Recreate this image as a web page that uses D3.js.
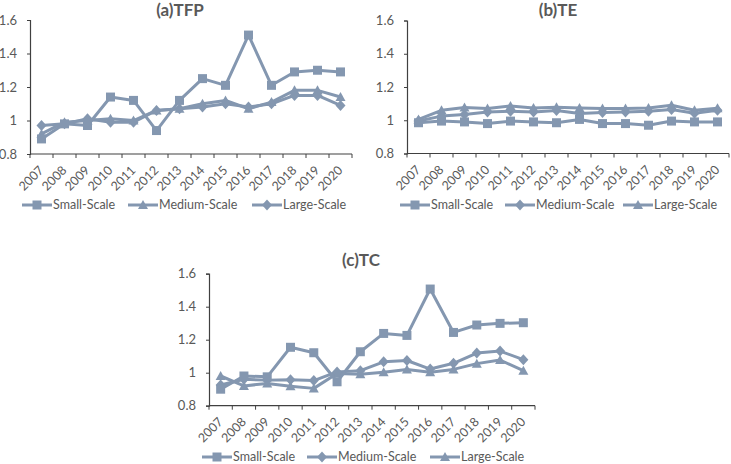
<!DOCTYPE html>
<html>
<head>
<meta charset="utf-8">
<script src="https://cdn.jsdelivr.net/npm/d3@7"></script>
<style>
  body { margin: 0; background: #fff; }
  svg { display: block; font-family: Lato, "Open Sans", sans-serif; }
  .tick text { fill: #595959; }
</style>
</head>
<body>
<svg id="chart" width="731" height="464"></svg>
<script>
var years = [2007, 2008, 2009, 2010, 2011, 2012, 2013, 2014, 2015, 2016, 2017, 2018, 2019, 2020];

// (a) TFP
var tfpSmall  = [0.89, 0.98, 0.97, 1.14, 1.12, 0.94, 1.12, 1.25, 1.21, 1.51, 1.21, 1.29, 1.30, 1.29];
var tfpMedium = [0.92, 0.99, 1.00, 1.01, 1.00, 1.06, 1.07, 1.10, 1.12, 1.07, 1.11, 1.18, 1.18, 1.14];
var tfpLarge  = [0.97, 0.98, 1.01, 0.99, 0.99, 1.06, 1.07, 1.08, 1.10, 1.08, 1.10, 1.15, 1.15, 1.09];

// (b) TE
var teSmall  = [0.985, 0.995, 0.99, 0.98, 0.995, 0.99, 0.985, 1.005, 0.98, 0.98, 0.97, 0.995, 0.99, 0.99];
var teMedium = [0.995, 1.025, 1.035, 1.05, 1.054, 1.05, 1.058, 1.04, 1.046, 1.05, 1.054, 1.065, 1.042, 1.06];
var teLarge  = [1.005, 1.06, 1.076, 1.07, 1.086, 1.074, 1.078, 1.074, 1.07, 1.07, 1.074, 1.09, 1.06, 1.072];

// (c) TC
var tcSmall  = [0.90, 0.98, 0.975, 1.154, 1.121, 0.945, 1.127, 1.238, 1.226, 1.507, 1.244, 1.289, 1.299, 1.303];
var tcMedium = [0.925, 0.96, 0.955, 0.958, 0.952, 1.005, 1.012, 1.066, 1.074, 1.022, 1.057, 1.119, 1.131, 1.079];
var tcLarge  = [0.98, 0.92, 0.935, 0.918, 0.905, 0.995, 0.99, 1.003, 1.02, 1.003, 1.02, 1.055, 1.077, 1.012];

var yTicks = [0.8, 1.0, 1.2, 1.4, 1.6];
var color = "#8497B0";
var axisColor = "#404040";

var panels = [
    { title: "(a)TFP", x0: 30, x1: 352, yTop: 20, yBot: 154, titleX: 180, titleY: 16, legendY: 205,
      legendX: [22, 128, 252],
      series: [
        { name: "Small-Scale", values: tfpSmall, shape: "square" },
        { name: "Medium-Scale", values: tfpMedium, shape: "triangle" },
        { name: "Large-Scale", values: tfpLarge, shape: "diamond" } ] },
    { title: "(b)TE", x0: 407, x1: 729, yTop: 20.5, yBot: 153.5, titleX: 558, titleY: 16, legendY: 205,
      legendX: [400, 505, 623],
      series: [
        { name: "Small-Scale", values: teSmall, shape: "square" },
        { name: "Medium-Scale", values: teMedium, shape: "diamond" },
        { name: "Large-Scale", values: teLarge, shape: "triangle" } ] },
    { title: "(c)TC", x0: 209, x1: 535, yTop: 273.7, yBot: 405.7, titleX: 361, titleY: 266, legendY: 457,
      legendX: [202, 307, 430],
      series: [
        { name: "Small-Scale", values: tcSmall, shape: "square" },
        { name: "Medium-Scale", values: tcMedium, shape: "diamond" },
        { name: "Large-Scale", values: tcLarge, shape: "triangle" } ] }
];

var svg = d3.select("#chart");

function marker(shape) {
    if (shape === "square") return "M-4.5,-4.5H4.5V4.5H-4.5Z";
    if (shape === "triangle") return "M0,-5L5,4H-5Z";
    return "M0,-5.5L5,0L0,5.5L-5,0Z";
}

function drawPanel(p) {
    var g = svg.append("g");

    var x = d3.scaleBand().domain(years).range([p.x0, p.x1]).padding(0);
    var y = d3.scaleLinear().domain([0.8, 1.6]).range([p.yBot, p.yTop]);

    // y axis
    var yAxis = d3.axisLeft(y)
        .tickValues(yTicks)
        .tickSize(3)
        .tickPadding(10)
        .tickFormat(d3.format("~g"));
    var ya = g.append("g")
        .attr("transform", "translate(" + p.x0 + ",0)")
        .call(yAxis);
    ya.select(".domain").attr("stroke", axisColor).attr("stroke-width", 1.2);
    ya.selectAll(".tick line").attr("stroke", axisColor);
    ya.selectAll(".tick text").style("font-size", "13px").style("font-family", "Lato");

    // x axis: line plus ticks between categories
    g.append("line")
        .attr("x1", p.x0).attr("x2", p.x1)
        .attr("y1", p.yBot).attr("y2", p.yBot)
        .attr("stroke", axisColor).attr("stroke-width", 1.2);

    var edges = years.map(d => x(d)).concat([p.x1]);
    g.selectAll(".xtick")
        .data(edges)
        .enter().append("line")
            .attr("class", "xtick")
            .attr("x1", d => d).attr("x2", d => d)
            .attr("y1", p.yBot).attr("y2", p.yBot + 4)
            .attr("stroke", axisColor);

    g.selectAll(".xlabel")
        .data(years)
        .enter().append("text")
            .attr("class", "xlabel")
            .attr("text-anchor", "end")
            .attr("fill", "#595959")
            .style("font-size", "12.5px")
            .attr("transform", d => "translate(" + (x(d) + x.bandwidth() / 2 + 3) + "," + (p.yBot + 17) + ") rotate(-45)")
            .text(d => d);

    // title
    g.append("text")
        .attr("x", p.titleX).attr("y", p.titleY)
        .attr("text-anchor", "middle")
        .attr("fill", "#595959")
        .style("font-size", "17px")
        .style("font-weight", "bold")
        .text(p.title);

    // lines + markers
    var line = d3.line()
        .x((d, i) => x(years[i]) + x.bandwidth() / 2)
        .y(d => y(d));

    p.series.slice().reverse().forEach(function(s) {
        g.append("path")
            .datum(s.values)
            .attr("fill", "none")
            .attr("stroke", color)
            .attr("stroke-width", 3)
            .attr("stroke-linejoin", "round")
            .attr("d", line);

        g.selectAll(null)
            .data(s.values)
            .enter().append("path")
                .attr("d", marker(s.shape))
                .attr("fill", color)
                .attr("transform", (d, i) => "translate(" + (x(years[i]) + x.bandwidth() / 2) + "," + y(d) + ")");
    });

    // legend
    p.series.forEach(function(s, i) {
        var lx = p.legendX[i];
        var lg = g.append("g").attr("transform", "translate(" + lx + "," + p.legendY + ")");
        lg.append("line")
            .attr("x1", 0).attr("x2", 30)
            .attr("stroke", color).attr("stroke-width", 3);
        lg.append("path")
            .attr("d", marker(s.shape))
            .attr("fill", color)
            .attr("transform", "translate(15,0)");
        lg.append("text")
            .attr("x", 31).attr("y", 0)
            .attr("dy", "0.35em")
            .attr("fill", "#595959")
            .style("font-size", "12.5px")
            .text(s.name);
    });
}

panels.forEach(drawPanel);
</script>
</body>
</html>
